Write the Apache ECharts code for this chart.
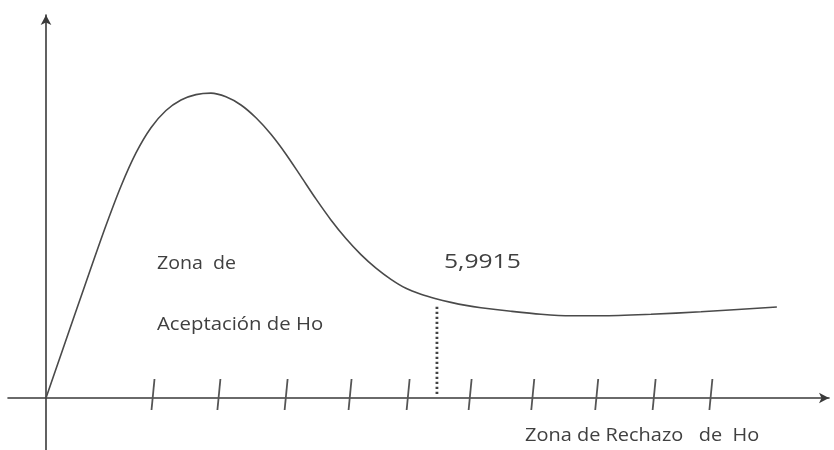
<!DOCTYPE html>
<html>
<head>
<meta charset="utf-8">
<script src="https://cdn.jsdelivr.net/npm/echarts@6/dist/echarts.min.js"></script>
<style>
html,body{margin:0;padding:0;background:#fff;}
#chart{width:834px;height:450px;}
</style>
</head>
<body>
<div id="chart"></div>
<script>
// Curve (x in chi-square units, y in density-like units)
const curveX = [0, 0.230, 0.460, 0.690, 0.919, 1.149, 1.379, 1.609, 1.839, 2.069, 2.298, 2.528, 2.758, 2.988, 3.218, 3.448, 3.678, 3.907, 4.137, 4.367, 4.597, 4.827, 5.057, 5.287, 5.516, 5.746, 5.976, 6.206, 6.436, 6.666, 7.125, 7.585, 8.045, 8.504, 9.271, 10.037, 11.201];
const curveY = [0, 0.0435, 0.087, 0.1302, 0.1725, 0.2118, 0.2451, 0.2703, 0.2875, 0.298, 0.3034, 0.3049, 0.3012, 0.293, 0.2802, 0.2637, 0.2438, 0.2216, 0.1991, 0.1781, 0.1595, 0.1434, 0.1299, 0.1187, 0.1097, 0.1037, 0.0992, 0.0956, 0.0926, 0.0903, 0.0867, 0.0837, 0.0822, 0.0822, 0.0837, 0.0862, 0.091];
// Hand-drawn tick marks on the x axis
const tickX = [1.64, 2.65, 3.68, 4.66, 5.55, 6.50, 7.46, 8.44, 9.32, 10.19];
const tickRange = [-0.012, 0.019];
// Critical value and its dotted line
const criticalValue = 5.9915;
const criticalLabel = '5,9915';
const dottedY = [0.004, 0.092];
// Text labels
const labelAccept1 = 'Zona  de';
const labelAccept2 = 'Aceptación de Ho';
const labelReject = 'Zona de Rechazo   de  Ho';

const chart = echarts.init(document.getElementById('chart'), null, {renderer: 'canvas'});

const axisColor = '#3a3a3a';
const textColor = '#404040';
const font = '"Open Sans", "Noto Sans", sans-serif';

const option = {
  backgroundColor: '#ffffff',
  animation: false,
  grid: {left: 8, right: 5, top: 15, bottom: 0, containLabel: false},
  xAxis: {
    type: 'value',
    min: -0.5823,
    max: 12,
    axisLine: {onZero: true, show: true, symbol: ['none', 'arrow'], symbolSize: [8, 10], lineStyle: {color: axisColor, width: 1.6}},
    axisTick: {show: false},
    axisLabel: {show: false},
    splitLine: {show: false}
  },
  yAxis: {
    type: 'value',
    min: -0.052,
    max: 0.383,
    axisLine: {onZero: true, show: true, symbol: ['none', 'arrow'], symbolSize: [8, 10], lineStyle: {color: axisColor, width: 1.6}},
    axisTick: {show: false},
    axisLabel: {show: false},
    splitLine: {show: false}
  },
  series: [
    {
      type: 'line',
      data: curveX.map((x, i) => [x, curveY[i]]),
      smooth: 0.3,
      showSymbol: false,
      lineStyle: {color: '#4a4a4a', width: 1.6},
      z: 3
    },
    {
      type: 'line',
      data: dottedY.map(y => [criticalValue, y]),
      showSymbol: false,
      lineStyle: {color: '#444', width: 2.8, type: [2.2, 2.8], cap: 'butt'},
      z: 3
    },
    {
      type: 'custom',
      data: tickX.map(x => [x]),
      renderItem: function (params, api) {
        const x = api.value(0);
        const top = api.coord([x, tickRange[1]]);
        const bot = api.coord([x, tickRange[0]]);
        return {
          type: 'line',
          shape: {x1: top[0] + 1.5, y1: top[1], x2: bot[0] - 1.5, y2: bot[1]},
          style: {stroke: '#555', lineWidth: 1.8}
        };
      },
      z: 4
    }
  ],
  graphic: [
    {type: 'text', x: 157, y: 254, scaleX: 1.03, style: {text: labelAccept1, font: '19px ' + font, fill: textColor, verticalAlign: 'top'}},
    {type: 'text', x: 157, y: 315, scaleX: 1.07, style: {text: labelAccept2, font: '19px ' + font, fill: textColor, verticalAlign: 'top'}},
    {type: 'text', x: 444, y: 252, scaleX: 1.2, style: {text: criticalLabel, font: '20.5px ' + font, fill: textColor, verticalAlign: 'top'}},
    {type: 'text', x: 525, y: 426, scaleX: 1.05, style: {text: labelReject, font: '19px ' + font, fill: textColor, verticalAlign: 'top'}}
  ]
};
chart.setOption(option);
</script>
</body>
</html>
